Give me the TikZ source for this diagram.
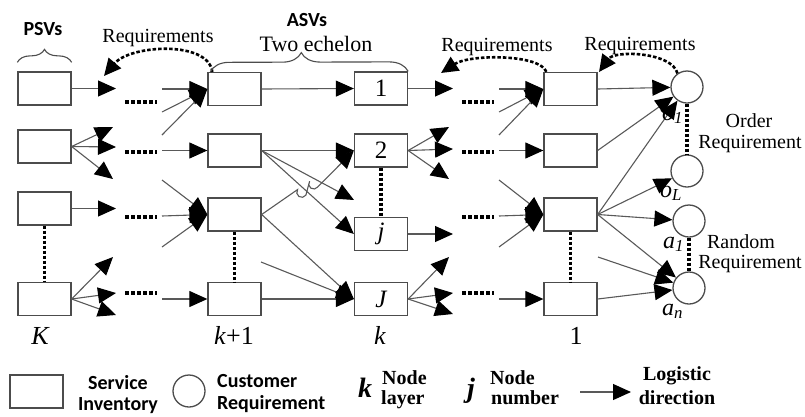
\documentclass[tikz,border=0pt]{standalone}
\usepackage{fontspec}
\setmainfont{Liberation Serif}
\newfontfamily\legendsans{Carlito}
\usetikzlibrary{arrows.meta,calc,decorations.pathreplacing}

\begin{document}
\begin{tikzpicture}[x=1pt,y=-1pt,
  inv/.style={draw=black!70, line width=1.3pt, rectangle, minimum width=53pt,
    minimum height=33pt, inner sep=0pt, fill=white,
    font=\fontsize{25}{27}\selectfont},
  cust/.style={draw=black!70, line width=1.3pt, circle, minimum size=32pt,
    inner sep=0pt, fill=white},
  flow/.style={draw=black!65, line width=1.1pt,
    -{Triangle[length=18pt,width=16pt,color=black]}},
  gapdots/.style={draw=black, line width=3.2pt, dash pattern=on 3.5pt off 2.5pt},
  stack/.style={draw=black, line width=3.2pt, dash pattern=on 3pt off 2pt},
  req/.style={draw=black, line width=2.6pt, dash pattern=on 3.5pt off 2pt,
    -{Triangle[length=17pt,width=16pt,color=black]}},
  bracestyle/.style={draw=black!70, line width=1.1pt, decorate},
  serif/.style={inner sep=0pt, font=\fontsize{20}{22}\selectfont},
  sans/.style={inner sep=0pt, font=\legendsans\bfseries\fontsize{20}{22}\selectfont},
  boldserif/.style={inner sep=0pt, font=\bfseries\fontsize{20}{22}\selectfont},
  layerlabel/.style={inner sep=0pt, anchor=base, font=\fontsize{26}{28}\selectfont},
  custlabel/.style={inner sep=0pt, anchor=base west, font=\itshape\fontsize{24}{26}\selectfont},
]
\useasboundingbox (0,0) rectangle (805,416);

% ---------- service inventory columns ----------
\node[inv] (c1r1) at (44.5,88.5) {};
\node[inv] (c1r2) at (44.5,146.5) {};
\node[inv] (c1r3) at (44.5,208.5) {};
\node[inv] (c1r4) at (44.5,299) {};

\node[inv] (c2r1) at (234.5,89) {};
\node[inv] (c2r2) at (234.5,150.5) {};
\node[inv] (c2r3) at (234.5,214.5) {};
\node[inv] (c2r4) at (234.5,299) {};

\node[inv] (c3r1) at (381,88.5) {1};
\node[inv] (c3r2) at (381,150.5) {2};
\node[inv] (c3j) at (381,234) {\itshape j};
\node[inv] (c3J) at (381,299) {\itshape J};

\node[inv] (c4r1) at (570.5,89) {};
\node[inv] (c4r2) at (570.5,150.5) {};
\node[inv] (c4r3) at (570.5,214.5) {};
\node[inv] (c4r4) at (570.5,299) {};

% ---------- customer requirements ----------
\node[cust] (cO1) at (687,87) {};
\node[cust] (cOL) at (687,171) {};
\node[cust] (cA1) at (689,221) {};
\node[cust] (cAn) at (689,288) {};

% ---------- free ends in the gaps ----------
\coordinate (g1t1) at (116,88.5);
\coordinate (g1t2a) at (113,127);
\coordinate (g1t2b) at (116,147);
\coordinate (g1t2c) at (113,179);
\coordinate (g1t3) at (116,208.5);
\coordinate (g1t4a) at (113,257);
\coordinate (g1t4b) at (116,293);
\coordinate (g1t4c) at (116,315);

\coordinate (g1s1a) at (162,89);
\coordinate (g1s1b) at (162,112);
\coordinate (g1s1c) at (162,135);
\coordinate (g1s2) at (162,150.5);
\coordinate (g1s3a) at (162,180);
\coordinate (g1s3b) at (162,216);
\coordinate (g1s3c) at (162,247);
\coordinate (g1s4) at (162,299);

\coordinate (tC1) at (354,200);
\coordinate (g2f) at (261,262);

\coordinate (g2t1) at (453,88.5);
\coordinate (g2t2a) at (449,127);
\coordinate (g2t2b) at (453,149);
\coordinate (g2t2c) at (449,179);
\coordinate (g2t3) at (453,234);
\coordinate (g2t4a) at (449,257);
\coordinate (g2t4b) at (453,293);
\coordinate (g2t4c) at (453,314);

\coordinate (g2s1a) at (499,89);
\coordinate (g2s1b) at (499,112);
\coordinate (g2s1c) at (499,135);
\coordinate (g2s2) at (499,150.5);
\coordinate (g2s3a) at (499,180);
\coordinate (g2s3b) at (499,216);
\coordinate (g2s3c) at (499,247);
\coordinate (g2s4) at (499,299);

\coordinate (g3f) at (598,257);

% ---------- logistic flows: PSVs into the first gap ----------
\draw[flow] (c1r1.east) -- (g1t1);
\draw[flow] (c1r2.east) -- (g1t2a);
\draw[flow] (c1r2.east) -- (g1t2b);
\draw[flow] (c1r2.east) -- (g1t2c);
\draw[flow] (c1r3.east) -- (g1t3);
\draw[flow] (c1r4.east) -- (g1t4a);
\draw[flow] (c1r4.east) -- (g1t4b);
\draw[flow] (c1r4.east) -- (g1t4c);

% ---------- first gap into layer k+1 ----------
\draw[flow] (g1s1a) -- (c2r1.west);
\draw[flow] (g1s1b) -- (c2r1.west);
\draw[flow] (g1s1c) -- (c2r1.west);
\draw[flow] (g1s2) -- (c2r2.west);
\draw[flow] (g1s3a) -- (c2r3.west);
\draw[flow] (g1s3b) -- (c2r3.west);
\draw[flow] (g1s3c) -- (c2r3.west);
\draw[flow] (g1s4) -- (c2r4.west);

% ---------- layer k+1 into layer k ----------
\draw[flow] (c2r1.east) -- (c3r1.west);
\draw[flow] (c2r2.east) -- (c3r2.west);
\draw[flow] (c2r2.east) -- (tC1);
\draw[flow] (c2r2.east) -- (c3j.west);
\draw[flow] (c2r3.east) -- ($(c2r3.east)!0.39!(c3r2.west)$)
  arc[start angle=145.75, end angle=325.75, radius=5pt]
  -- ($(c2r3.east)!0.52!(c3r2.west)$)
  arc[start angle=145.75, end angle=325.75, radius=5pt]
  -- (c3r2.west);
\draw[flow] (c2r3.east) -- (c3J.west);
\draw[flow] (g2f) -- (c3J.west);
\draw[flow] (c2r4.east) -- (c3J.west);

% ---------- layer k into the second gap ----------
\draw[flow] (c3r1.east) -- (g2t1);
\draw[flow] (c3r2.east) -- (g2t2a);
\draw[flow] (c3r2.east) -- (g2t2b);
\draw[flow] (c3r2.east) -- (g2t2c);
\draw[flow] (c3j.east) -- (g2t3);
\draw[flow] (c3J.east) -- (g2t4a);
\draw[flow] (c3J.east) -- (g2t4b);
\draw[flow] (c3J.east) -- (g2t4c);

% ---------- second gap into layer 1 ----------
\draw[flow] (g2s1a) -- (c4r1.west);
\draw[flow] (g2s1b) -- (c4r1.west);
\draw[flow] (g2s1c) -- (c4r1.west);
\draw[flow] (g2s2) -- (c4r2.west);
\draw[flow] (g2s3a) -- (c4r3.west);
\draw[flow] (g2s3b) -- (c4r3.west);
\draw[flow] (g2s3c) -- (c4r3.west);
\draw[flow] (g2s4) -- (c4r4.west);

% ---------- layer 1 into customer requirements ----------
\draw[flow] (c4r1.east) -- (cO1);
\draw[flow] (c4r2.east) -- (cO1);
\draw[flow] (c4r3.east) -- (cO1);
\draw[flow] (c4r3.east) -- (cOL);
\draw[flow] (c4r3.east) -- (cA1);
\draw[flow] (c4r3.east) -- (cAn);
\draw[flow] (g3f) -- (cAn);
\draw[flow] (c4r4.east) -- (cAn);

% ---------- omitted layers (dotted) ----------
\foreach \yy in {102,152,217,293} {
  \draw[gapdots] (125,\yy) -- (157,\yy);
  \draw[gapdots] (462,\yy) -- (494,\yy);
}
\draw[stack] (c1r3.south) -- (c1r4.north);
\draw[stack] (c2r3.south) -- (c2r4.north);
\draw[stack] (c3r2.south) -- (c3j.north);
\draw[stack] (c4r3.south) -- (c4r4.north);
\draw[stack] (cO1.south) -- (cOL.north);
\draw[stack] (cA1.south) -- (cAn.north);

% ---------- requirement feedback ----------
\coordinate (rq1s) at ($(c2r1.north west)+(5,0)$);
\coordinate (rq1e) at (104,76);
\draw[req] (rq1s) .. controls (208,40) and (130,45) .. (rq1e);
\coordinate (rq2s) at ($(c4r1.north west)+(3,0)$);
\coordinate (rq2e) at (441,73);
\draw[req] (rq2s) .. controls (540,54) and (470,54) .. (rq2e);
\coordinate (rq3e) at (599,72);
\draw[req] (cO1.125) .. controls (672,52) and (615,50) .. (rq3e);

% ---------- braces ----------
\draw[bracestyle, decoration={brace, amplitude=13pt}]
  ($(c1r1.north west)+(0,-9)$) -- ($(c1r1.north east)+(0,-9)$);
\draw[bracestyle, decoration={brace, amplitude=19pt, aspect=0.46}]
  ($(c2r1.north west)+(3,0)$) -- (c3r1.north east);

% ---------- headings ----------
\node[sans, anchor=base] at (43,35) {PSVs};
\node[sans, anchor=base] at (307,26.7) {ASVs};
\node[serif, anchor=base] at (158,42) {Requirements};
\node[serif, anchor=base, font=\fontsize{22}{24}\selectfont] at (316,51.5) {Two echelon};
\node[serif, anchor=base] at (497,51) {Requirements};
\node[serif, anchor=base] at (640,50) {Requirements};
\node[serif, anchor=base] at (749,127) {Order};
\node[serif, anchor=base] at (750,148) {Requirement};
\node[serif, anchor=base] at (741,248) {Random};
\node[serif, anchor=base] at (750,268) {Requirement};

% ---------- requirement labels ----------
\node[custlabel] at (662,120) {o\textsubscript{1}};
\node[custlabel] at (660,197) {o\textsubscript{L}};
\node[custlabel] at (663,248) {a\textsubscript{1}};
\node[custlabel] at (662,315) {a\textsubscript{n}};

% ---------- layer labels ----------
\node[layerlabel] at (40,344) {\itshape K};
\node[layerlabel] at (234,344) {\textit{k}+1};
\node[layerlabel] at (380,344) {\itshape k};
\node[layerlabel] at (576,344) {1};

% ---------- legend ----------
\node[inv] (lgbox) at (36.5,391.5) {};
\node[sans, anchor=base] at (118,389) {Service};
\node[sans, anchor=base] at (118,410) {Inventory};
\node[cust] (lgcirc) at (189,391) {};
\node[sans, anchor=base west] at (217,387) {Customer};
\node[sans, anchor=base west] at (217,409) {Requirement};
\node[inner sep=0pt, anchor=base, font=\bfseries\itshape\fontsize{28}{30}\selectfont] at (365,397) {k};
\node[boldserif, anchor=base west] at (382,384) {Node};
\node[boldserif, anchor=base west] at (381,404) {layer};
\node[inner sep=0pt, anchor=base, font=\bfseries\itshape\fontsize{28}{30}\selectfont] at (471,397) {j};
\node[boldserif, anchor=base west] at (490,384) {Node};
\node[boldserif, anchor=base west] at (491,404) {number};
\coordinate (lga) at (580,392);
\coordinate (lgb) at (631,392);
\draw[flow] (lga) -- (lgb);
\node[boldserif, anchor=base] at (677,380) {Logistic};
\node[boldserif, anchor=base] at (677,404) {direction};
\end{tikzpicture}
\end{document}
